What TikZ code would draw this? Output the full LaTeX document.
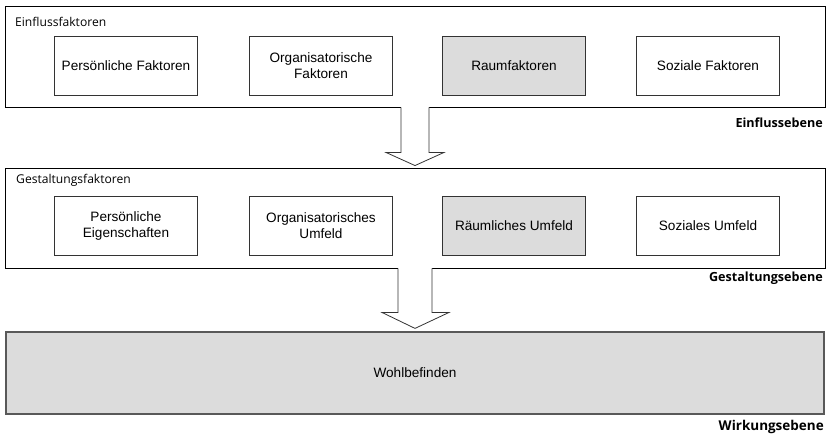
\documentclass[tikz,border=0pt]{standalone}
\usepackage{fontspec}
\setmainfont{Liberation Sans}
\newfontfamily\levelfont{Open Sans}
\usetikzlibrary{calc}
\definecolor{panelgray}{HTML}{DCDCDC}
\definecolor{boxline}{HTML}{333333}
\begin{document}
\begin{tikzpicture}[x=1pt,y=-1pt,
  layer/.style={draw=black, line width=0.9pt, minimum width=820pt, inner sep=0pt},
  factor/.style={draw=boxline, line width=0.8pt, minimum width=143pt, minimum height=59pt,
    inner sep=0pt, align=center, font=\fontsize{13.6}{16}\selectfont},
  shaded/.style={fill=panelgray},
  grouptitle/.style={font=\levelfont\fontsize{12.1}{14}\selectfont, inner sep=0pt},
  leveltitle/.style={font=\levelfont\bfseries\fontsize{12.6}{14}\selectfont, inner sep=0pt},
  flowarrow/.style={draw=boxline, line width=0.8pt, fill=white, line join=miter}]
  \useasboundingbox (0,0) rectangle (827,436);

  % outer panels
  \node[layer, minimum height=101pt] (einfluss) at (415,56.5) {};
  \node[layer, minimum height=100pt] (gestaltung) at (415,218) {};
  \node[draw=black!65, line width=1.2pt, fill=panelgray, minimum width=818pt, minimum height=82pt,
        inner sep=0pt, font=\fontsize{13.6}{16}\selectfont] (wirkung) at (415,373) {Wohlbefinden};

  % panel titles
  \node[grouptitle, anchor=base west] (t1) at (15,27) {Einflussfaktoren};
  \node[grouptitle, anchor=base west] (t2) at (16,183) {Gestaltungsfaktoren};
  \node[leveltitle, anchor=base east] (l1) at (823,127) {Einflussebene};
  \node[leveltitle, anchor=base east] (l2) at (823,281) {Gestaltungsebene};
  \node[leveltitle, anchor=base east, font=\levelfont\bfseries\fontsize{13.5}{15}\selectfont] (l3) at (824,430) {Wirkungsebene};

  % influence factors
  \node[factor] (pf) at (126,65.5) {Persönliche Faktoren};
  \node[factor] (of) at (321,65.5) {Organisatorische\\Faktoren};
  \node[factor, shaded] (rf) at (514,65.5) {Raumfaktoren};
  \node[factor] (sf) at (708,65.5) {Soziale Faktoren};

  % design factors
  \node[factor] (pe) at (126,225.5) {Persönliche\\Eigenschaften};
  \node[factor] (ou) at (321,225.5) {Organisatorisches\\Umfeld};
  \node[factor, shaded] (ru) at (514,225.5) {Räumliches Umfeld};
  \node[factor] (su) at (708,225.5) {Soziales Umfeld};

  % block arrows between the levels
  \fill[white] ($(einfluss.south)+(-14,-1)$) rectangle ($(einfluss.south)+(14,1)$);
  \draw[flowarrow] ($(einfluss.south)+(-14,0)$) -- ++(0,45) -- ++(-15,0)
    -- ($(gestaltung.north)+(0,-2)$) -- ($(einfluss.south)+(29,45)$) -- ++(-15,0)
    -- ($(einfluss.south)+(14,0)$);
  \fill[white] ($(gestaltung.south)+(-17,-1)$) rectangle ($(gestaltung.south)+(17,1)$);
  \draw[flowarrow] ($(gestaltung.south)+(-17,0)$) -- ++(0,44) -- ++(-16,0)
    -- ($(wirkung.north)+(0,-3)$) -- ($(gestaltung.south)+(34,44)$) -- ++(-17,0)
    -- ($(gestaltung.south)+(17,0)$);
\end{tikzpicture}
\end{document}
